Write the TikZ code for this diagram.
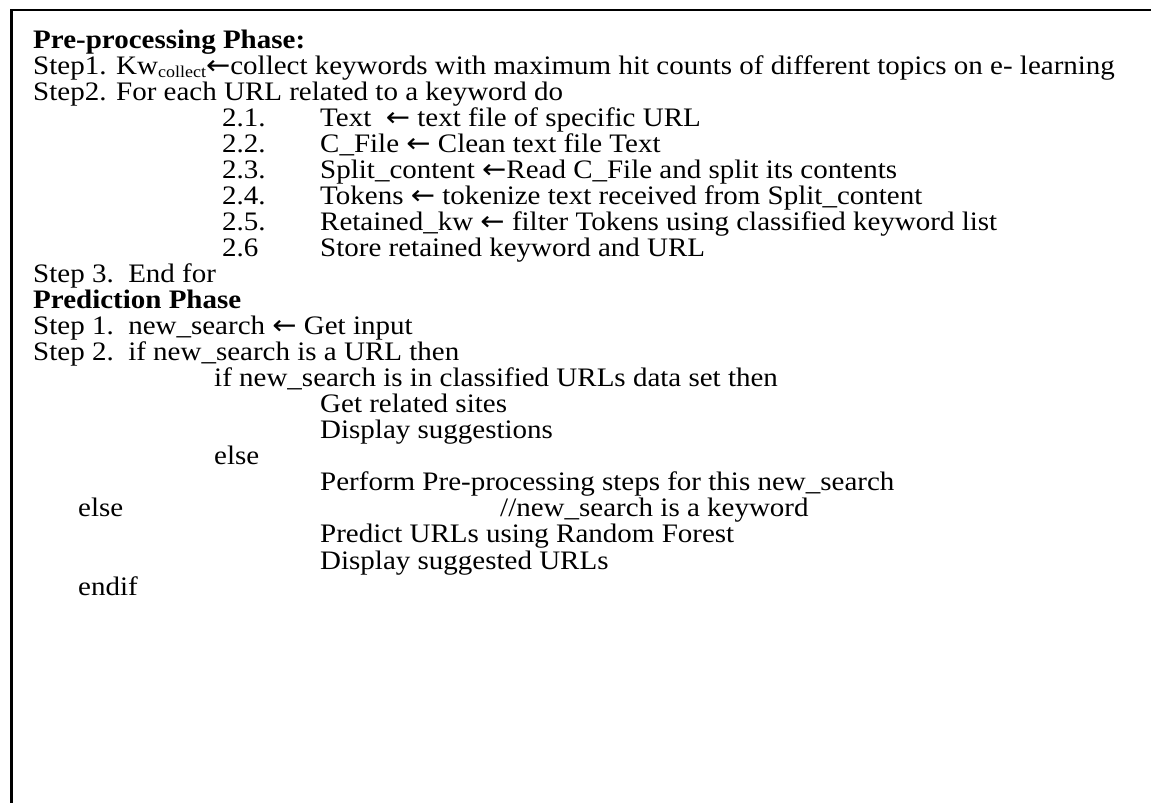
\documentclass[tikz,border=0pt]{standalone}
\usepackage{graphicx}
\usepackage{fontspec}
\setmainfont{Liberation Serif}
\newfontfamily\arrowfont{DejaVu Sans}
\newcommand\larr{{\arrowfont ←}}
\newcommand\sub[1]{\raisebox{-0.14em}{\fontsize{18}{18}\selectfont #1}}
% slightly condensed rows (glyphs a little lower than wide)
\newcommand\row[1]{\scalebox{1}[0.92]{#1}}
\begin{document}
\begin{tikzpicture}[x=1pt,y=-1pt,
  line/.style={anchor=base west,inner sep=0pt,text height=17pt,text depth=5pt,
               font=\fontsize{29}{26}\selectfont},
  head/.style={line,font=\fontsize{29}{26}\selectfont\bfseries}]
\useasboundingbox (0,0) rectangle (1151,803);
% frame of the listing
\draw[line width=2.2pt] (11.5,803) -- (11.5,10) -- (1151,10);
% rows: baseline of row k at 48 + 26.05 k
\node[head] (h1) at (33,{48}) {\row{Pre-processing Phase:}};
\node[line] (s1) at (33,{48+26.05*1}) {\row{Step1. Kw\sub{collect}\larr collect keywords with maximum hit counts of different topics on e- learning}};
\node[line] (s2) at (33,{48+26.05*2}) {\row{Step2. For each URL related to a keyword do}};
\node[line] (n21) at (222,{48+26.05*3}) {\row{2.1.}};
\node[line] (t21) at (320,{48+26.05*3}) {\row{Text\ \ \larr\ text file of specific URL}};
\node[line] (n22) at (222,{48+26.05*4}) {\row{2.2.}};
\node[line] (t22) at (320,{48+26.05*4}) {\row{C\_File \larr\ Clean text file Text}};
\node[line] (n23) at (222,{48+26.05*5}) {\row{2.3.}};
\node[line] (t23) at (320,{48+26.05*5}) {\row{Split\_content \larr Read C\_File and split its contents}};
\node[line] (n24) at (222,{48+26.05*6}) {\row{2.4.}};
\node[line] (t24) at (320,{48+26.05*6}) {\row{Tokens \larr\ tokenize text received from Split\_content}};
\node[line] (n25) at (222,{48+26.05*7}) {\row{2.5.}};
\node[line] (t25) at (320,{48+26.05*7}) {\row{Retained\_kw \larr\ filter Tokens using classified keyword list}};
\node[line] (n26) at (222,{48+26.05*8}) {\row{2.6}};
\node[line] (t26) at (320,{48+26.05*8}) {\row{Store retained keyword and URL}};
\node[line] (s3) at (33,{48+26.05*9}) {\row{Step 3.\ \ End for}};
\node[head] (h2) at (33,{48+26.05*10}) {\row{Prediction Phase}};
\node[line] (p1) at (33,{48+26.05*11}) {\row{Step 1.\ \ new\_search \larr\ Get input}};
\node[line] (p2) at (33,{48+26.05*12}) {\row{Step 2.\ \ if new\_search is a URL then}};
\node[line] (p3) at (214,{48+26.05*13}) {\row{if new\_search is in classified URLs data set then}};
\node[line] (p4) at (320,{48+26.05*14}) {\row{Get related sites}};
\node[line] (p5) at (320,{48+26.05*15}) {\row{Display suggestions}};
\node[line] (p6) at (214,{48+26.05*16}) {\row{else}};
\node[line] (p7) at (320,{48+26.05*17}) {\row{Perform Pre-processing steps for this new\_search}};
\node[line] (p8) at (78,{48+26.05*18}) {\row{else}};
\node[line] (p8c) at (500,{48+26.05*18}) {\row{//new\_search is a keyword}};
\node[line] (p9) at (320,{48+26.05*19}) {\row{Predict URLs using Random Forest}};
\node[line] (p10) at (320,{48+26.05*20}) {\row{Display suggested URLs}};
\node[line] (p11) at (78,{48+26.05*21}) {\row{endif}};
\end{tikzpicture}
\end{document}
